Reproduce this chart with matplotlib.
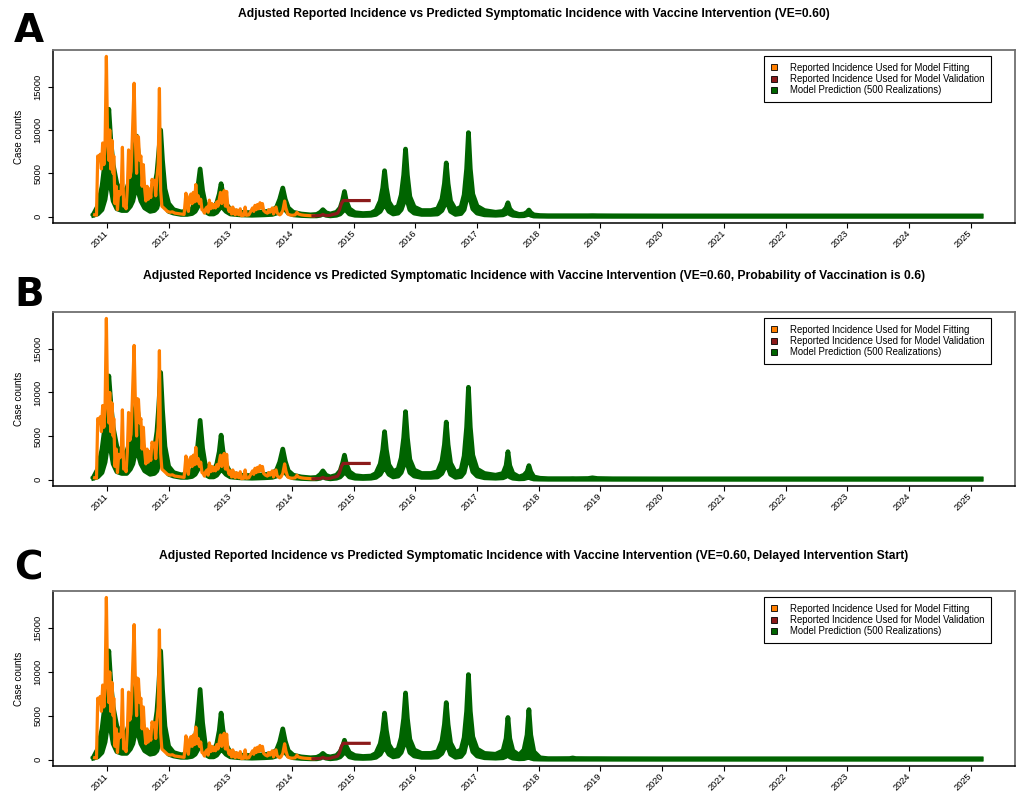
import matplotlib
matplotlib.use("Agg")
import matplotlib.pyplot as plt
from matplotlib.lines import Line2D
import numpy as np

# ---------------- data ----------------
years = list(range(2011, 2026))
year_labels = [str(y) for y in years]

titles = [
    "Adjusted Reported Incidence vs Predicted Symptomatic Incidence with Vaccine Intervention (VE=0.60)",
    "Adjusted Reported Incidence vs Predicted Symptomatic Incidence with Vaccine Intervention (VE=0.60, Probability of Vaccination is 0.6)",
    "Adjusted Reported Incidence vs Predicted Symptomatic Incidence with Vaccine Intervention (VE=0.60, Delayed Intervention Start)",
]
panel_letters = ["A", "B", "C"]
legend_labels = ["Reported Incidence Used for Model Fitting",
                 "Reported Incidence Used for Model Validation",
                 "Model Prediction (500 Realizations)"]

# reported incidence used for fitting
t_fit = [2010.80, 2010.83, 2010.85, 2010.87, 2010.89, 2010.91, 2010.93, 2010.95, 2010.97, 2010.99,
         2011.01, 2011.03, 2011.045, 2011.06, 2011.08, 2011.10, 2011.11, 2011.13, 2011.15, 2011.17,
         2011.19, 2011.21, 2011.23, 2011.25, 2011.27, 2011.29, 2011.31, 2011.33, 2011.35, 2011.37,
         2011.39, 2011.41, 2011.44, 2011.46, 2011.48, 2011.49, 2011.51, 2011.53, 2011.55, 2011.57,
         2011.59, 2011.61, 2011.63, 2011.65, 2011.67, 2011.69, 2011.71, 2011.73, 2011.75, 2011.77,
         2011.79, 2011.81, 2011.83, 2011.85, 2011.87, 2011.89, 2011.92, 2011.95, 2011.98, 2012.02,
         2012.06, 2012.10, 2012.15, 2012.20, 2012.25, 2012.28, 2012.30, 2012.32, 2012.34, 2012.36,
         2012.38, 2012.40, 2012.42, 2012.44, 2012.46, 2012.48, 2012.50, 2012.52, 2012.54, 2012.56,
         2012.58, 2012.60, 2012.62, 2012.64, 2012.66, 2012.68, 2012.70, 2012.72, 2012.74, 2012.76,
         2012.78, 2012.80, 2012.82, 2012.84, 2012.86, 2012.88, 2012.90, 2012.92, 2012.94, 2012.96,
         2012.98, 2013.00, 2013.02, 2013.04, 2013.06, 2013.08, 2013.10, 2013.12, 2013.14, 2013.16,
         2013.18, 2013.22, 2013.24, 2013.26, 2013.30, 2013.33, 2013.36, 2013.38, 2013.40, 2013.42,
         2013.44, 2013.46, 2013.48, 2013.50, 2013.52, 2013.54, 2013.57, 2013.60, 2013.62, 2013.64,
         2013.66, 2013.68, 2013.70, 2013.72, 2013.74, 2013.76, 2013.78, 2013.80, 2013.82, 2013.85,
         2013.88, 2013.90, 2013.93, 2013.96, 2014.00, 2014.05, 2014.08, 2014.10, 2014.15, 2014.20,
         2014.25, 2014.30, 2014.35]
y_fit = [200, 150, 7000, 6500, 7200, 5500, 8500, 6000, 8800, 18500,
         9000, 6500, 10000, 5500, 8800, 5000, 7000, 1500, 3500, 800,
         2900, 2500, 2800, 8000, 1200, 1500, 900, 3200, 7700, 4500,
         5200, 9000, 15400, 9000, 5000, 9300, 9200, 6500, 7000, 3500,
         6000, 3300, 1800, 3500, 2000, 3200, 2200, 4300, 3800, 4200,
         2400, 4500, 6000, 14800, 3000, 1200, 1000, 800, 600, 500,
         550, 400, 350, 300, 250, 2700, 1200, 600, 2300, 2600,
         1500, 2800, 1700, 3700, 1800, 2400, 1500, 2000, 800, 700,
         400, 900, 1100, 500, 1900, 900, 1500, 1000, 1400, 1000,
         1700, 1200, 2000, 2800, 1500, 2200, 3000, 1200, 2900, 1100,
         600, 1000, 300, 1100, 400, 200, 800, 300, 200, 900,
         100, 150, 1100, 150, 200, 600, 1000, 600, 1300, 800,
         1400, 900, 1600, 1000, 1500, 700, 500, 400, 800, 500,
         700, 1000, 300, 900, 1100, 400, 300, 200, 300, 700,
         1800, 1000, 300, 200, 150, 200, 500, 300, 200, 150,
         120, 100, 100]

# reported incidence used for validation
t_val = [2014.34, 2014.40, 2014.46, 2014.50, 2014.53, 2014.58, 2014.62, 2014.66, 2014.70,
         2014.74, 2014.77, 2014.80, 2014.83, 2014.90, 2015.00, 2015.10, 2015.25]
y_val = [80, 100, 120, 250, 150, 120, 150, 250, 300,
         400, 800, 1500, 1850, 1850, 1850, 1850, 1850]

# model prediction envelope (500 realizations): time knots
t_green = [
    # 2010.78 - 2012.00
    2010.78, 2010.85, 2010.92, 2010.97, 2011.00, 2011.03, 2011.06, 2011.10, 2011.16, 2011.24,
    2011.32, 2011.38, 2011.42, 2011.45, 2011.48, 2011.51, 2011.55, 2011.61, 2011.70, 2011.77,
    2011.81, 2011.84, 2011.87, 2011.90, 2011.94, 2012.00,
    # 2012.08 - 2014.30
    2012.08, 2012.20, 2012.30, 2012.38, 2012.43, 2012.47, 2012.51, 2012.55, 2012.59, 2012.66,
    2012.73, 2012.78, 2012.82, 2012.85, 2012.88, 2012.93, 2013.00, 2013.15, 2013.35, 2013.55,
    2013.68, 2013.75, 2013.80, 2013.85, 2013.89, 2013.94, 2014.02, 2014.15, 2014.30,
    # 2014.40 - 2015.28
    2014.40, 2014.46, 2014.50, 2014.55, 2014.62, 2014.72, 2014.78, 2014.82, 2014.85, 2014.88,
    2014.93, 2015.02, 2015.15, 2015.28,
    # 2015.36 - 2018.15
    2015.36, 2015.43, 2015.47, 2015.50, 2015.53, 2015.57, 2015.64, 2015.72, 2015.77, 2015.81,
    2015.84, 2015.87, 2015.91, 2015.98, 2016.10, 2016.25, 2016.36, 2016.43, 2016.47, 2016.50,
    2016.53, 2016.57, 2016.65, 2016.74, 2016.79, 2016.83, 2016.86, 2016.89, 2016.93, 2017.00,
    2017.12, 2017.30, 2017.42, 2017.47, 2017.50, 2017.53, 2017.58, 2017.68, 2017.76, 2017.81,
    2017.84, 2017.87, 2017.92, 2018.02, 2018.15,
    # 2018.30 - 2025.17
    2018.30, 2018.50, 2018.55, 2018.60, 2018.80, 2018.87, 2018.95, 2019.20, 2020.00, 2022.00,
    2025.17]

green_lo = [
    150, 300, 800, 2000, 3500, 5000, 3500, 1800, 900, 700,
    700, 1200, 1800, 2800, 3500, 2800, 1800, 1000, 600, 700,
    1000, 1800, 3000, 2500, 1200, 600,
    400, 250, 250, 350, 600, 1100, 2000, 1200, 600, 300,
    300, 500, 900, 1400, 1000, 600, 300, 200, 150, 200,
    250, 400, 700, 1200, 800, 400, 200, 120, 80,
    80, 150, 300, 150, 80, 150, 300, 600, 1000, 700,
    300, 150, 120, 150,
    250, 600, 1100, 1800, 1100, 600, 300, 400, 800, 1600,
    2800, 1800, 800, 400, 250, 250, 300, 700, 1300, 2200,
    1400, 600, 250, 350, 800, 2000, 3500, 2000, 900, 400,
    200, 150, 200, 350, 600, 300, 150, 80, 100, 200,
    300, 150, 60, 40, 30,
    30, 30, 30, 30, 30, 30, 30, 30, 30, 30,
    30]

green_hi_A = [
    250, 1200, 3500, 6500, 9500, 12400, 9000, 6000, 3800, 2800,
    3200, 4500, 6000, 8000, 9300, 7000, 4800, 3200, 2500, 3500,
    5000, 7500, 10000, 6500, 3200, 1500,
    800, 550, 600, 900, 1700, 3200, 5500, 3000, 1600, 900,
    1000, 1600, 2600, 3800, 2600, 1500, 800, 500, 450, 550,
    700, 1100, 2000, 3300, 2000, 1000, 500, 300, 200,
    250, 500, 800, 450, 300, 500, 1000, 1900, 2900, 1800,
    900, 450, 350, 400,
    700, 1800, 3300, 5300, 3300, 1700, 900, 1200, 2500, 4800,
    7800, 4800, 2300, 1100, 700, 700, 900, 2000, 3800, 6200,
    3800, 1800, 800, 1100, 2500, 5500, 9700, 5500, 2600, 1200,
    700, 500, 600, 1000, 1600, 900, 500, 250, 300, 500,
    760, 450, 200, 120, 100,
    100, 100, 100, 100, 100, 110, 100, 90, 80, 80,
    80]

green_hi_B = [
    250, 1200, 3500, 6300, 9000, 11900, 9000, 6000, 3800, 2800,
    3200, 4500, 6000, 7800, 9000, 7000, 4800, 3200, 2500, 3500,
    5500, 8500, 12300, 8000, 3800, 1500,
    800, 550, 600, 1000, 2000, 3800, 6800, 3600, 1800, 900,
    1000, 1800, 3200, 5100, 3300, 1700, 800, 500, 450, 550,
    700, 1100, 2000, 3500, 2100, 1000, 500, 300, 200,
    250, 600, 1000, 500, 300, 500, 1000, 1900, 2800, 1800,
    900, 450, 350, 400,
    700, 1800, 3400, 5500, 3400, 1700, 900, 1200, 2500, 4800,
    7800, 4800, 2300, 1100, 700, 700, 900, 2100, 4000, 6600,
    4000, 1900, 800, 1100, 2700, 6000, 10600, 6000, 2800, 1200,
    700, 500, 700, 1600, 3200, 1600, 700, 300, 500, 900,
    1600, 900, 300, 150, 100,
    100, 100, 110, 100, 120, 200, 120, 90, 80, 80,
    80]

green_hi_C = [
    250, 1200, 3500, 6500, 9500, 12400, 9000, 6000, 3800, 2800,
    3200, 4500, 6000, 7800, 9000, 7000, 4800, 3200, 2500, 3500,
    5500, 8500, 12400, 8000, 3800, 1500,
    800, 550, 600, 1100, 2300, 4500, 8000, 4200, 1900, 900,
    1000, 1800, 3300, 5300, 3400, 1700, 800, 500, 450, 550,
    700, 1100, 2000, 3500, 2100, 1000, 500, 300, 200,
    250, 450, 700, 400, 300, 450, 900, 1500, 2200, 1500,
    800, 450, 350, 400,
    700, 1800, 3300, 5300, 3300, 1700, 900, 1200, 2500, 4700,
    7600, 4700, 2300, 1100, 700, 700, 900, 2100, 4000, 6500,
    4000, 1900, 800, 1100, 2500, 5500, 9700, 5500, 2600, 1200,
    700, 600, 1000, 2400, 4800, 2400, 1000, 500, 1100, 2800,
    5700, 2800, 900, 200, 100,
    100, 110, 180, 110, 100, 100, 100, 90, 80, 80,
    80]

green_hi = [green_hi_A, green_hi_B, green_hi_C]

# ---------------- style ----------------
ORANGE = "#FF7F00"
DARKRED = "#8B1A1A"
GREEN = "#006400"
TXT = ["Liberation Sans", "DejaVu Sans"]

fig = plt.figure(figsize=(10.21, 7.94), dpi=100)

ax_rects = [
    (53 / 1021, 1 - 223 / 794, 962 / 1021, 173 / 794),
    (53 / 1021, 1 - 486 / 794, 962 / 1021, 174 / 794),
    (53 / 1021, 1 - 766 / 794, 962 / 1021, 175 / 794),
]
title_y = [14, 276, 556]
letter_y = [31, 295, 568]

for i in range(3):
    ax = fig.add_axes(ax_rects[i])
    hi = green_hi[i]
    ax.fill_between(t_green, green_lo, hi, color=GREEN, lw=0, zorder=1)
    ax.plot(t_green, hi, color=GREEN, lw=3.4, solid_joinstyle="round", zorder=2)
    ax.plot(t_green, green_lo, color=GREEN, lw=3.4, solid_joinstyle="round", zorder=2)
    ax.plot(t_fit, y_fit, color=ORANGE, lw=2.3, solid_joinstyle="round", zorder=3)
    ax.plot(t_val, y_val, color=DARKRED, lw=2.3, solid_joinstyle="round", zorder=4)

    ax.set_xlim(2010.125, 2025.72)
    ax.set_ylim(-740, 19240)
    ax.set_xticks(years)
    ax.set_xticklabels(year_labels, rotation=45, ha="right", va="center",
                       rotation_mode="anchor", fontsize=6.6, family=TXT)
    ax.set_yticks([0, 5000, 10000, 15000])
    ax.set_yticklabels(["0", "5000", "10000", "15000"], rotation=90, va="center",
                       fontsize=6.8, family=TXT)
    ax.tick_params(axis="x", length=3.6, width=0.8, pad=3.0)
    ax.tick_params(axis="y", length=3.6, width=0.8, pad=4)
    ax.set_ylabel("Case counts", fontsize=7, family=TXT, labelpad=7)
    for s in ["top", "right"]:
        ax.spines[s].set_color("#707070")
        ax.spines[s].set_linewidth(1.3)
    for s in ["left", "bottom"]:
        ax.spines[s].set_color("black")
        ax.spines[s].set_linewidth(1.1)

    handles = [Line2D([], [], marker="s", linestyle="none", markersize=4.6,
                      markerfacecolor=c, markeredgecolor="black", markeredgewidth=0.6)
               for c in (ORANGE, DARKRED, GREEN)]
    leg = ax.legend(handles, legend_labels, loc="upper right",
                    bbox_to_anchor=(0.9755, 0.965), fancybox=False, framealpha=1,
                    edgecolor="black", prop={"family": TXT, "size": 6.9},
                    handlelength=0.7, handletextpad=1.3, borderpad=0.7,
                    labelspacing=0.12, borderaxespad=0)
    leg.get_frame().set_linewidth(0.8)

    fig.text(534 / 1021, 1 - title_y[i] / 794, titles[i], ha="center", va="center",
             fontsize=8.75, fontweight="bold", family=TXT)
    fig.text(14 / 1021, 1 - letter_y[i] / 794, panel_letters[i], ha="left", va="center",
             fontsize=28, fontweight="bold", family="DejaVu Sans")

fig.savefig("out.png", dpi=100)
